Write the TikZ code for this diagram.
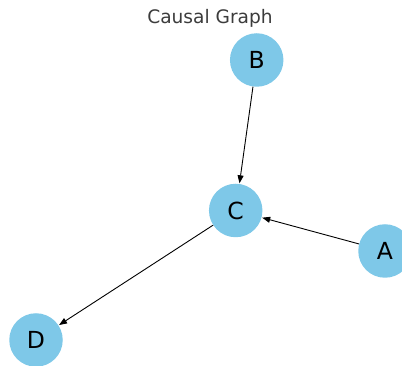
\documentclass[tikz,border=0pt]{standalone}
\usepackage{fontspec}
\setmainfont{DejaVu Sans}
\usetikzlibrary{arrows.meta}
\definecolor{nodeblue}{RGB}{126,200,232}
\definecolor{titlegray}{RGB}{60,60,60}
\tikzset{
  vertex/.style={circle, fill=nodeblue, draw=none, minimum size=53.5pt, inner sep=0pt,
                 font=\fontsize{23.5}{23.5}\selectfont},
  edge/.style={-{Stealth[length=8pt,width=6pt,inset=0pt]}, line width=0.9pt, black, shorten >=0.5pt},
}
\begin{document}
\begin{tikzpicture}[x=1pt,y=1pt]
  \useasboundingbox (0,0) rectangle (402,366);
  \node[text=titlegray, font=\fontsize{18.6}{18.6}\selectfont] (title) at (210,347.5) {Causal Graph};
  \node[vertex] (B) at (256.7,306) {B};
  \node[vertex] (C) at (235.7,155.5) {C};
  \node[vertex] (A) at (385,115) {A};
  \node[vertex] (D) at (36,26) {D};
  \draw[edge] (B) -- (C);
  \draw[edge] (A) -- (C);
  \draw[edge] (C) -- (D);
\end{tikzpicture}
\end{document}
